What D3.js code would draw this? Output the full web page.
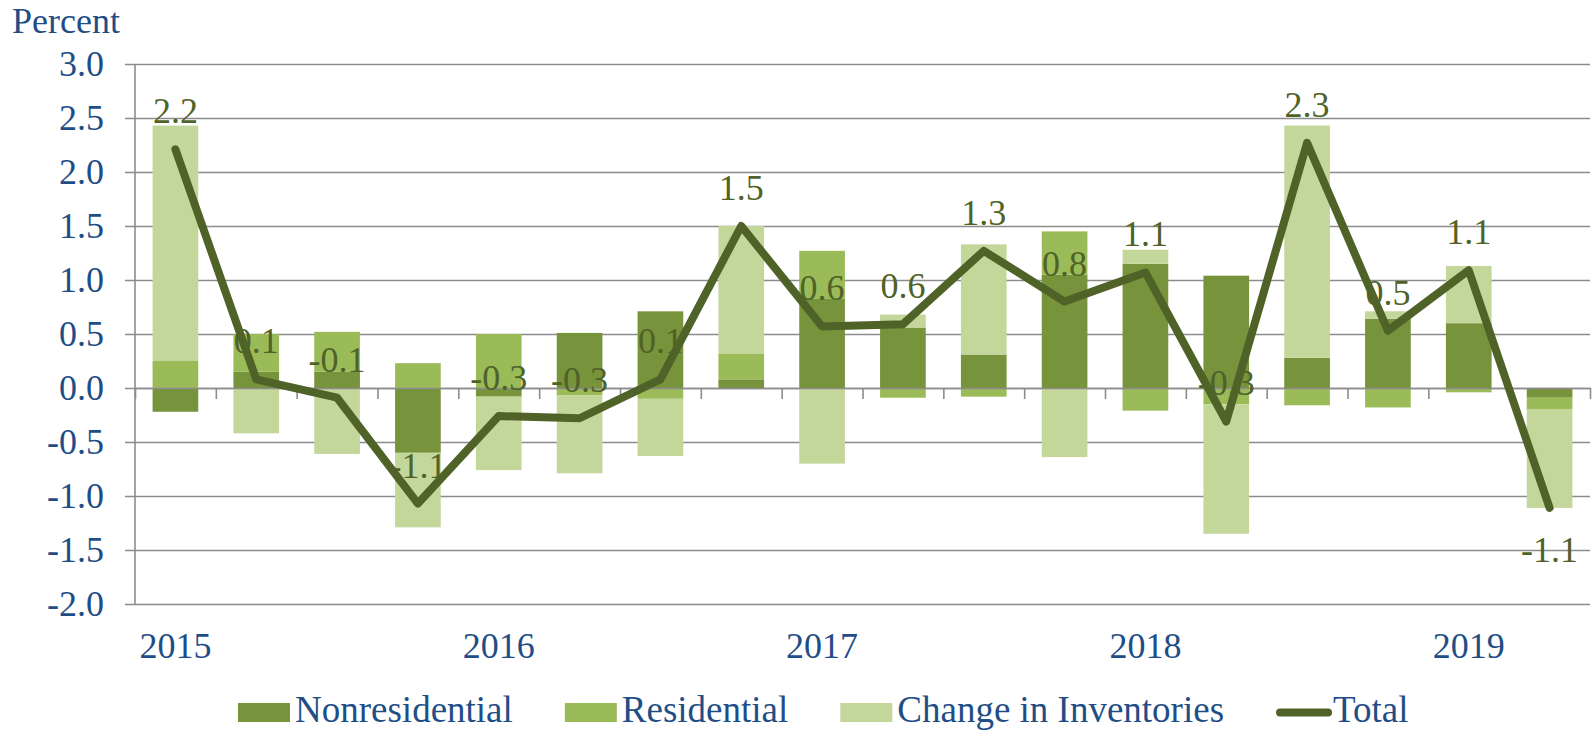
<!DOCTYPE html>
<html>
<head>
<meta charset="utf-8">
<script src="https://cdn.jsdelivr.net/npm/d3@7"></script>
<style>
    body { margin: 0; background: #fff; }
    #svg { display: block; background: #fff; font-family: "Liberation Serif", "Times New Roman", serif; }
    .grid line { stroke: #8c8c8c; stroke-width: 1.6; }
    .grid path { display: none; }
    .axis-text { fill: #1f4e87; font-size: 36px; font-family: "Liberation Serif", "Times New Roman", serif; }
    .legend-text { fill: #1f4e87; font-size: 37px; }
    .zero-axis line, .zero-axis path, .y-line { stroke: #8c8c8c; stroke-width: 1.6; }
    .total-line { fill: none; stroke: #4f6228; stroke-width: 8; stroke-linejoin: round; stroke-linecap: round; }
    .data-label { fill: #4f6228; font-size: 36px; text-anchor: middle; }
</style>
</head>
<body>
<svg id="svg"></svg>
<script>
// quarters 2015 Q1 .. 2019 Q2
const quarters = ['2015 Q1', '2015 Q2', '2015 Q3', '2015 Q4',
                  '2016 Q1', '2016 Q2', '2016 Q3', '2016 Q4',
                  '2017 Q1', '2017 Q2', '2017 Q3', '2017 Q4',
                  '2018 Q1', '2018 Q2', '2018 Q3', '2018 Q4',
                  '2019 Q1', '2019 Q2'];
const years = ['2015', '2016', '2017', '2018', '2019'];

const nonresidential = [-0.22, 0.15, 0.15, -0.60, -0.08, 0.51, 0.71, 0.08, 0.83, 0.56, 0.31, 1.05, 1.15, 1.04, 0.28, 0.64, 0.60, -0.09];
const residential    = [0.25, 0.35, 0.37, 0.23, 0.50, -0.07, -0.10, 0.24, 0.44, -0.09, -0.08, 0.40, -0.21, -0.15, -0.16, -0.18, -0.04, -0.11];
const inventories    = [2.18, -0.42, -0.61, -0.69, -0.68, -0.72, -0.53, 1.18, -0.70, 0.12, 1.02, -0.64, 0.13, -1.20, 2.15, 0.07, 0.53, -0.91];
const total          = [2.21, 0.08, -0.09, -1.07, -0.26, -0.28, 0.08, 1.50, 0.57, 0.59, 1.27, 0.80, 1.07, -0.31, 2.27, 0.53, 1.09, -1.11];

const yTicks = [-2.0, -1.5, -1.0, -0.5, 0.0, 0.5, 1.0, 1.5, 2.0, 2.5, 3.0];

const series = [
    {key: 'nonres', name: 'Nonresidential', color: '#77933c'},
    {key: 'res', name: 'Residential', color: '#9bbb59'},
    {key: 'inv', name: 'Change in Inventories', color: '#c4d79b'},
];
const totalColor = '#4f6228';

const width = 1594, height = 730;
const plot = {left: 135, right: 1590, top: 64, bottom: 604};

const fmt = d3.formatLocale({decimal: '.', thousands: ',', grouping: [3], currency: ['', ''], minus: '-'}).format('.1f');

const svg = d3.select('#svg')
    .attr('width', width)
    .attr('height', height);

const x = d3.scaleBand()
    .domain(quarters)
    .range([plot.left, plot.right])
    .paddingInner(0.435)
    .paddingOuter(0.2175);
const xEdge = d3.scaleLinear()
    .domain([0, quarters.length])
    .range([plot.left, plot.right]);
const y = d3.scaleLinear()
    .domain([-2, 3])
    .range([plot.bottom, plot.top]);

const cx = q => x(q) + x.bandwidth() / 2;

// gridlines + y labels
svg.append('g')
    .attr('class', 'grid')
    .attr('transform', 'translate(' + (plot.left - 10) + ',0)')
    .call(d3.axisLeft(y)
        .tickValues(yTicks)
        .tickSize(-(plot.right - plot.left + 10))
        .tickPadding(21)
        .tickFormat(fmt))
    .attr('font-family', null)
    .attr('font-size', null)
    .call(g => g.selectAll('text').attr('class', 'axis-text'));

svg.append('line')
    .attr('class', 'y-line')
    .attr('x1', plot.left).attr('x2', plot.left)
    .attr('y1', plot.top).attr('y2', plot.bottom);

svg.append('text')
    .attr('class', 'axis-text')
    .attr('x', 12)
    .attr('y', 33)
    .text('Percent');

// stacked bars
const rows = quarters.map((q, i) => ({
    q: q, nonres: nonresidential[i], res: residential[i], inv: inventories[i]
}));
const stacked = d3.stack()
    .keys(series.map(s => s.key))
    .offset(d3.stackOffsetDiverging)(rows);

svg.append('g')
    .selectAll('g')
    .data(stacked)
    .join('g')
    .attr('fill', (d, i) => series[i].color)
    .selectAll('rect')
    .data(d => d)
    .join('rect')
    .attr('x', d => x(d.data.q))
    .attr('width', x.bandwidth())
    .attr('y', d => y(Math.max(d[0], d[1])))
    .attr('height', d => Math.abs(y(d[0]) - y(d[1])));

// category axis at zero
svg.append('g')
    .attr('class', 'zero-axis')
    .attr('transform', 'translate(0,' + y(0) + ')')
    .call(d3.axisBottom(xEdge)
        .tickValues(d3.range(quarters.length + 1))
        .tickSize(11)
        .tickSizeOuter(0)
        .tickFormat(''));

// year labels under first quarter of each year
svg.append('g')
    .selectAll('text')
    .data(years)
    .join('text')
    .attr('class', 'axis-text')
    .attr('text-anchor', 'middle')
    .attr('x', d => cx(d + ' Q1'))
    .attr('y', 658)
    .text(d => d);

// data labels (last one sits under the point)
svg.append('g')
    .selectAll('text')
    .data(total)
    .join('text')
    .attr('class', 'data-label')
    .attr('x', (d, i) => cx(quarters[i]))
    .attr('y', (d, i) => i === total.length - 1 ? y(d) + 54 : y(d) - 26)
    .text(d => fmt(d));

// total line
svg.append('path')
    .datum(total)
    .attr('class', 'total-line')
    .attr('d', d3.line()
        .x((d, i) => cx(quarters[i]))
        .y(d => y(d)));

// legend
const legend = svg.append('g');
let lx = 238;
const items = series.map(s => ({name: s.name, color: s.color, line: false}))
    .concat([{name: 'Total', color: totalColor, line: true}]);
items.forEach(it => {
    if (it.line) {
        legend.append('line')
            .attr('x1', lx + 4).attr('x2', lx + 52)
            .attr('y1', 712.5).attr('y2', 712.5)
            .attr('stroke', it.color)
            .attr('stroke-width', 8)
            .attr('stroke-linecap', 'round');
    } else {
        legend.append('rect')
            .attr('x', lx).attr('y', 703)
            .attr('width', 52).attr('height', 19)
            .attr('fill', it.color);
    }
    const t = legend.append('text')
        .attr('class', 'legend-text')
        .attr('x', lx + 57)
        .attr('y', 722)
        .text(it.name);
    lx += 57 + t.node().getComputedTextLength() + 52;
});
</script>
</body>
</html>
